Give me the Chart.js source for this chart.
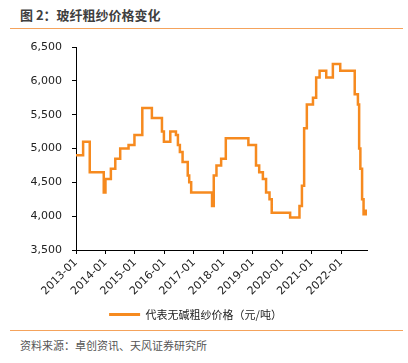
<!DOCTYPE html>
<html>
<head>
<meta charset="utf-8">
<script src="https://cdn.jsdelivr.net/npm/chart.js@4/dist/chart.umd.min.js"></script>
<style>
  body { margin: 0; background: #fff; width: 408px; height: 363px; position: relative; overflow: hidden; font-family: "Noto Sans CJK SC", sans-serif; }
  #title { position: absolute; left: 20px; top: 5px; font-size: 13px; font-weight: bold; color: #3f3f3f; }
  .rule { position: absolute; left: 10px; width: 393px; height: 1px; background: #f5a35c; }
  #source { position: absolute; left: 20px; top: 337px; font-size: 11px; color: #555; }
  #wrap { position: absolute; left: 0; top: 30px; width: 408px; height: 300px; }
</style>
</head>
<body>
<div id="title">图 2：玻纤粗纱价格变化</div>
<div class="rule" style="top:28px"></div>
<div id="wrap"><canvas id="chart"></canvas></div>
<div class="rule" style="top:330px"></div>
<div id="source">资料来源：卓创资讯、天风证券研究所</div>

<script>
// Meses desde 2013-01 en que cambia el precio, y el precio desde ese momento
const months = [0, 2.9, 5.6, 11.3, 12.0, 14.2, 16.0, 18.0, 21.4, 23.8,
  27.0, 30.9, 35.0, 35.8, 38.4, 40.7, 41.5, 42.3, 43.4, 45.5,
  46.1, 46.9, 55.4, 56.1, 57.2, 59.1, 61.0, 70.2, 73.3, 74.6,
  76.1, 77.4, 78.8, 79.7, 87.2, 91.0, 92.0, 92.9, 94.0, 96.5,
  97.8, 99.2, 101.9, 104.6, 107.6, 113.5, 114.8, 115.3, 115.8, 116.5,
  117.1, 118.1];
const prices = [4900, 5100, 4650, 4350, 4550, 4700, 4850, 5000, 5050, 5200,
  5600, 5450, 5250, 5100, 5250, 5200, 5050, 4950, 4800, 4600,
  4500, 4350, 4150, 4600, 4750, 4850, 5150, 5050, 4750, 4650,
  4550, 4350, 4250, 4050, 3980, 4150, 4450, 5300, 5650, 5750,
  6050, 6150, 6050, 6250, 6150, 5800, 5650, 5000, 4700, 4250,
  4030, 4100];
const xTickLabels = ['2013-01', '2014-01', '2015-01', '2016-01', '2017-01',
  '2018-01', '2019-01', '2020-01', '2021-01', '2022-01'];
const seriesName = '代表无碱粗纱价格（元/吨）';

const points = months.map((m, i) => ({ x: m, y: prices[i] }));
const orange = '#f68a1f';
const tickFont = { family: 'DejaVu Sans', size: 11 };

new Chart(document.getElementById('chart'), {
  type: 'line',
  data: {
    datasets: [{
      label: seriesName,
      data: points,
      stepped: 'before',
      borderColor: orange,
      backgroundColor: orange,
      borderWidth: 2.5,
      pointRadius: 0,
      fill: false
    }]
  },
  options: {
    responsive: true,
    maintainAspectRatio: false,
    animation: false,
    layout: { padding: { top: 17, right: 41, left: 24, bottom: 0 } },
    plugins: {
      tooltip: { enabled: false },
      legend: {
        position: 'bottom',
        labels: {
          boxWidth: 31,
          boxHeight: 3,
          padding: 10,
          color: '#222',
          font: { family: '"Noto Sans CJK SC"', size: 11 },
          generateLabels: chart => Chart.defaults.plugins.legend.labels.generateLabels(chart)
            .map(item => Object.assign(item, { lineWidth: 0 }))
        }
      }
    },
    scales: {
      x: {
        type: 'linear',
        min: 0,
        max: 118.5,
        afterBuildTicks: s => { s.ticks = s.ticks.filter(t => t.value % 12 === 0); },
        afterFit: s => { s.height = 49; },
        ticks: {
          stepSize: 12,
          minRotation: 45,
          maxRotation: 45,
          color: '#222',
          font: tickFont,
          padding: 2,
          callback: v => xTickLabels[v / 12]
        },
        grid: { display: true, drawOnChartArea: false, drawTicks: true, tickLength: 4, tickColor: '#000' },
        border: { color: '#000', width: 1 }
      },
      y: {
        min: 3500,
        max: 6500,
        afterFit: s => { s.width = 52; },
        ticks: {
          stepSize: 500,
          color: '#222',
          font: tickFont,
          padding: 10,
          callback: v => v.toLocaleString('en-US')
        },
        grid: { display: true, drawOnChartArea: false, drawTicks: true, tickLength: 4, tickColor: '#000' },
        border: { color: '#000', width: 1 }
      }
    }
  }
});
</script>
</body>
</html>
